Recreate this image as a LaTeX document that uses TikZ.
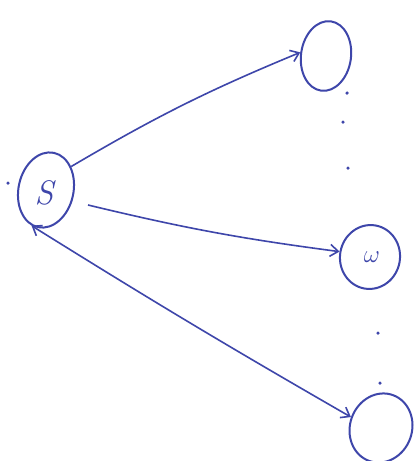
\documentclass[tikz,border=0pt]{standalone}
\usetikzlibrary{shapes.geometric,arrows.meta}
\definecolor{pen}{RGB}{62,70,170}
\begin{document}
\begin{tikzpicture}[x=1pt,y=-1pt,
  state/.style={draw=pen,ellipse,line width=2pt,inner sep=0pt},
  edge/.style={draw=pen,line width=1.6pt,-{Straight Barb[length=8pt,width=12pt]}},
  dot/.style={fill=pen,circle,inner sep=0pt,minimum size=3.5pt}]
\fill[white] (0,0) rectangle (419,461);
\useasboundingbox (0,0) rectangle (419,461);
\node[state,minimum width=55pt,minimum height=76pt,rotate=-12] (S) at (46,190) {};
\node[text=pen,font=\fontsize{34}{34}\selectfont\itshape] (Sl) at (44,193) {S};
\node[state,minimum width=50pt,minimum height=70pt,rotate=-8] (t) at (326,56) {};
\node[state,minimum width=60pt,minimum height=64pt,rotate=-10] (w) at (370,257) {};
\node[text=pen,font=\fontsize{30}{30}\selectfont] (wl) at (372,257) {$\omega$};
\node[state,minimum width=62pt,minimum height=70pt,rotate=-20] (b) at (381,428) {};
\coordinate (s2) at (88,205);
\draw[edge] (S.55) to[bend left=4] (t.west);
\draw[edge] (s2) to[bend right=3] (w.west);
\draw[edge,{Straight Barb[length=8pt,width=12pt]}-{Straight Barb[length=8pt,width=12pt]}] (S.-100) to[bend right=1] (b.west);
\node[dot] (d1) at (347,93) {};
\node[dot] (d2) at (343,122) {};
\node[dot] (d3) at (348,168) {};
\node[dot] (d4) at (378,333) {};
\node[dot] (d5) at (380,383) {};
\node[dot] (d0) at (8,183) {};
\end{tikzpicture}
\end{document}
